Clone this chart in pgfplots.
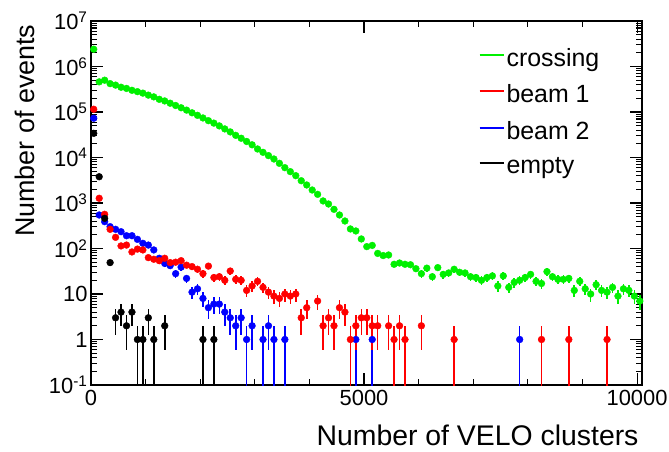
\documentclass[border=0pt]{standalone}
\usepackage{fontspec}
\setmainfont{Liberation Sans}
\usepackage{pgfplots}
\usepackage{pgfplotstable}
\pgfplotsset{compat=1.18}

\definecolor{rootgreen}{RGB}{0,240,0}
\definecolor{rootred}{RGB}{255,0,0}
\definecolor{rootblue}{RGB}{0,0,255}

% x = bin centre (VELO clusters), y = events, e = sqrt(N) error
\pgfplotstableread{
x y e
50 2400000 0
150 460000 0
250 500000 0
350 420000 0
450 390000 0
550 350000 0
650 330000 0
750 300000 0
850 280000 0
950 260000 0
1050 235000 0
1150 215000 0
1250 190000 0
1350 175000 0
1450 156000 0
1550 139000 0
1650 124000 0
1750 110000 0
1850 96000 0
1950 84500 0
2050 74000 0
2150 64500 0
2250 57000 0
2350 49500 0
2450 42500 0
2550 36500 0
2650 30700 0
2750 26500 0
2850 22500 0
2950 19000 0
3050 15400 0
3150 13000 0
3250 11000 0
3350 9270 0
3450 7450 0
3550 5980 0
3650 4890 0
3750 3990 0
3850 3090 0
3950 2490 0
4050 1930 0
4150 1550 0
4250 1110 0
4350 950 0
4450 726 0
4550 545 23.3
4650 402 20
4750 269 16.4
4850 243 15.6
4950 162 12.7
5050 110 10.5
5150 117 10.8
5250 78 8.83
5350 70 8.37
5450 72 8.49
5550 45 6.71
5650 48 6.93
5750 45 6.71
5850 44 6.63
5950 36 6
6050 28 5.29
6150 37 6.08
6250 24 4.9
6350 38 6.16
6450 27 5.2
6550 29 5.39
6650 35 5.92
6750 30 5.48
6850 29 5.39
6950 24 4.9
7050 23 4.8
7150 20 4.47
7250 23 4.8
7350 25 5
7450 15 3.87
7550 25 5
7650 14 3.74
7750 18 4.24
7850 20 4.47
7950 23 4.8
8050 27 5.2
8150 19 4.36
8250 17 4.12
8350 31 5.57
8450 24 4.9
8550 21 4.58
8650 21 4.58
8750 22 4.69
8850 12 3.46
8950 19 4.36
9050 13 3.61
9150 10 3.16
9250 16 4
9350 12 3.46
9450 11 3.32
9550 14 3.74
9650 9 3
9750 13 3.61
9850 12 3.46
9950 9 3
10050 7 2.65
}\crossing

\pgfplotstableread{
x y e
50 115000 0
150 1270 0
250 564 23.7
350 264 16.2
450 176 13.3
550 114 10.7
650 119 10.9
750 84 9.17
850 97 9.85
950 93 9.64
1050 63 7.94
1150 58 7.62
1250 54 7.35
1350 61 7.81
1450 49 7
1550 50 7.07
1650 54 7.35
1750 43 6.56
1850 40 6.32
1950 35 5.92
2050 28 5.29
2150 41 6.4
2250 23 4.8
2350 24 4.9
2450 20 4.47
2550 32 5.66
2650 21 4.58
2750 20 4.47
2850 12 3.46
2950 15 3.87
3050 19 4.36
3150 14 3.74
3250 11 3.32
3350 9 3
3450 8 2.83
3550 10 3.16
3650 9 3
3750 10 3.16
3850 3 1.73
3950 5 2.24
4150 7 2.65
4250 2 1.41
4350 3 1.73
4450 2 1.41
4550 5 2.24
4650 4 2
4750 1 0.99
4850 2 1.41
4950 3 1.73
5050 3 1.73
5150 2 1.41
5250 2 1.41
5450 2 1.41
5550 1 0.99
5650 2 1.41
5750 1 0.99
6050 2 1.41
6650 1 0.99
8250 1 0.99
8750 1 0.99
9450 1 0.99
}\beamone

\pgfplotstableread{
x y e
50 73000 0
150 545 23.3
250 389 19.7
350 302 17.4
450 264 16.2
550 234 15.3
650 191 13.8
750 191 13.8
850 159 12.6
950 130 11.4
1050 119 10.9
1150 93 9.64
1250 61 7.81
1350 47 6.86
1450 42 6.48
1550 28 5.29
1650 39 6.24
1750 22 4.69
1850 11 3.32
1950 13 3.61
2050 8 2.83
2150 5 2.24
2250 6 2.45
2350 6 2.45
2450 4 2
2550 3 1.73
2650 2 1.41
2750 3 1.73
2850 1 0.99
2950 2 1.41
3150 1 0.99
3250 2 1.41
3350 1 0.99
3550 1 0.99
4850 1 0.99
5150 1 0.99
7850 1 0.99
}\beamtwo

\pgfplotstableread{
x y e
50 34000 0
150 3780 0
250 460 21.4
350 49 7
450 3 1.73
550 4 2
650 2 1.41
750 4 2
850 1 0.99
950 1 0.99
1050 3 1.73
1150 1 0.99
1350 2 1.41
2050 1 0.99
2250 1 0.99
}\emptyev

\begin{document}
\begin{tikzpicture}
\useasboundingbox (-91bp,-67bp) rectangle (578bp,385bp);
\begin{axis}[
    scale only axis,
    width=551bp, height=364bp,
    xmin=0, xmax=10090,
    ymode=log, ymin=0.1, ymax=1e7,
    scaled x ticks=false,
    xtick={0,5000,10000},
    xticklabels={0,5000,10000},
    minor xtick={1000,2000,3000,4000,6000,7000,8000,9000},
    ytick={0.1,1,10,100,1000,10000,100000,1000000,10000000},
    yticklabels={10\textsuperscript{-1},1,10,10\textsuperscript{2},10\textsuperscript{3},10\textsuperscript{4},10\textsuperscript{5},10\textsuperscript{6},10\textsuperscript{7}},
    minor ytick={0.2,0.3,0.4,0.5,0.6,0.7,0.8,0.9,
        2,3,4,5,6,7,8,9,20,30,40,50,60,70,80,90,
        200,300,400,500,600,700,800,900,2000,3000,4000,5000,6000,7000,8000,9000,
        20000,30000,40000,50000,60000,70000,80000,90000,
        200000,300000,400000,500000,600000,700000,800000,900000,
        2000000,3000000,4000000,5000000,6000000,7000000,8000000,9000000},
    axis line style={line width=1.6bp},
    major tick length=12bp, minor tick length=6bp,
    every tick/.style={black, line width=1.1bp},
    ticklabel style={font=\fontsize{22}{24}\selectfont},
    xticklabel style={yshift=-2bp},
    xlabel={Number of VELO clusters},
    ylabel={Number of events},
    every axis x label/.style={at={(rel axis cs:1,-0.165)}, anchor=base east,
        font=\fontsize{28.5}{30}\selectfont},
    every axis y label/.style={at={(rel axis cs:-0.102,1)}, anchor=base east,
        rotate=90, font=\fontsize{27}{30}\selectfont},
    legend style={at={(rel axis cs:0.703,0.93)}, anchor=north west,
        draw=none, fill=none, font=\fontsize{25}{27}\selectfont,
        row sep=12.7bp, inner sep=0pt},
    legend cell align=left,
    legend image code/.code={\draw[#1, line width=2bp] (0bp,0.33em) -- (24bp,0.33em);},
    clip=true,
]
\addplot[forget plot, only marks, mark=*, mark size=3.4bp, color=rootgreen,
    mark options={fill=rootgreen, draw=rootgreen},
    error bars/.cd, y dir=both, y explicit, error mark=none,
    error bar style={line width=1.6bp, rootgreen}]
    table[x=x, y=y, y error=e] {\crossing};
\addplot[forget plot, only marks, mark=*, mark size=3.4bp, color=rootblue,
    mark options={fill=rootblue, draw=rootblue},
    error bars/.cd, y dir=both, y explicit, error mark=none,
    error bar style={line width=1.6bp, rootblue}]
    table[x=x, y=y, y error=e] {\beamtwo};
\addplot[forget plot, only marks, mark=*, mark size=3.4bp, color=rootred,
    mark options={fill=rootred, draw=rootred},
    error bars/.cd, y dir=both, y explicit, error mark=none,
    error bar style={line width=1.6bp, rootred}]
    table[x=x, y=y, y error=e] {\beamone};
\addplot[forget plot, only marks, mark=*, mark size=3.4bp, color=black,
    mark options={fill=black, draw=black},
    error bars/.cd, y dir=both, y explicit, error mark=none,
    error bar style={line width=1.6bp, black}]
    table[x=x, y=y, y error=e] {\emptyev};
\addlegendimage{rootgreen}
\addlegendentry{crossing}
\addlegendimage{rootred}
\addlegendentry{beam 1}
\addlegendimage{rootblue}
\addlegendentry{beam 2}
\addlegendimage{black}
\addlegendentry{empty}
\end{axis}
\end{tikzpicture}
\end{document}
